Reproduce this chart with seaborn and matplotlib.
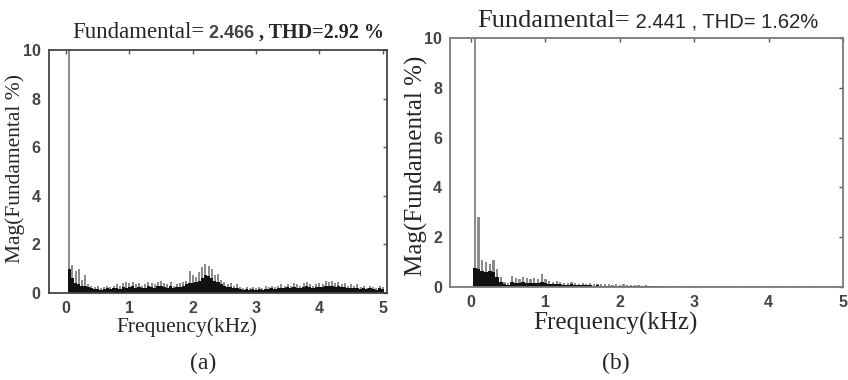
import numpy as np
import pandas as pd
import matplotlib
matplotlib.use("Agg")
import matplotlib.pyplot as plt
import seaborn as sns

# harmonic spectrum, 50 Hz bins up to 5 kHz (values in % of fundamental)
orders = np.arange(1, 101)
freq_khz = orders * 0.05

peak_a = [100, 1.15, 0.9, 1.0, 0.55, 0.75, 0.35, 0.3, 0.25, 0.3,
          0.2, 0.25, 0.3, 0.25, 0.3, 0.35, 0.3, 0.4, 0.45, 0.4,
          0.45, 0.35, 0.4, 0.3, 0.35, 0.45, 0.4, 0.35, 0.45, 0.5,
          0.4, 0.35, 0.45, 0.3, 0.35, 0.4, 0.45, 0.5, 0.9, 0.75,
          0.65, 0.85, 1.05, 1.2, 1.1, 1.0, 0.75, 0.8, 0.55, 0.45,
          0.35, 0.4, 0.3, 0.35, 0.25, 0.2, 0.25, 0.2, 0.25, 0.2,
          0.25, 0.2, 0.3, 0.25, 0.3, 0.25, 0.3, 0.35, 0.3, 0.35,
          0.3, 0.4, 0.35, 0.3, 0.4, 0.45, 0.35, 0.3, 0.35, 0.4,
          0.35, 0.5, 0.45, 0.5, 0.4, 0.45, 0.35, 0.4, 0.3, 0.35,
          0.3, 0.35, 0.25, 0.3, 0.2, 0.3, 0.25, 0.2, 0.3, 0.25]

base_a = [1.0, 0.6, 0.4, 0.35, 0.3, 0.3, 0.25, 0.2, 0.15, 0.15,
          0.12, 0.15, 0.2, 0.15, 0.2, 0.2, 0.15, 0.25, 0.2, 0.25,
          0.3, 0.2, 0.25, 0.2, 0.2, 0.3, 0.25, 0.2, 0.3, 0.3,
          0.25, 0.2, 0.3, 0.2, 0.25, 0.25, 0.3, 0.35, 0.4, 0.4,
          0.45, 0.5, 0.6, 0.75, 0.7, 0.6, 0.5, 0.45, 0.35, 0.3,
          0.25, 0.25, 0.2, 0.2, 0.15, 0.12, 0.15, 0.12, 0.15, 0.12,
          0.15, 0.12, 0.15, 0.15, 0.2, 0.15, 0.2, 0.2, 0.2, 0.25,
          0.2, 0.25, 0.2, 0.2, 0.25, 0.3, 0.25, 0.2, 0.25, 0.25,
          0.25, 0.3, 0.3, 0.3, 0.25, 0.3, 0.25, 0.25, 0.2, 0.2,
          0.2, 0.2, 0.15, 0.2, 0.15, 0.2, 0.15, 0.12, 0.2, 0.15]

peak_b = [100, 2.8, 1.1, 1.0, 0.9, 1.1, 0.7, 0.4, 0.2, 0.15,
          0.45, 0.35, 0.3, 0.4, 0.35, 0.3, 0.35, 0.3, 0.5, 0.3,
          0.25, 0.2, 0.25, 0.2, 0.15, 0.15, 0.2, 0.15, 0.12, 0.15,
          0.12, 0.15, 0.1, 0.12, 0.1, 0.12, 0.1, 0.08, 0.1, 0.08,
          0.1, 0.08, 0.06, 0.08, 0.06, 0.05, 0.06, 0.05, 0.04, 0.05,
          0.04, 0.03, 0.04, 0.03, 0.03, 0.02, 0.03, 0.02, 0.02, 0.02,
          0.02, 0.02, 0.01, 0.02, 0.02, 0.01, 0.02, 0.01, 0.02, 0.01,
          0.02, 0.01, 0.01, 0.02, 0.01, 0.01, 0.02, 0.01, 0.01, 0.02,
          0.01, 0.01, 0.02, 0.01, 0.01, 0.01, 0.02, 0.01, 0.01, 0.01,
          0.01, 0.02, 0.01, 0.01, 0.01, 0.01, 0.01, 0.02, 0.01, 0.01]

base_b = [0.75, 0.7, 0.65, 0.6, 0.65, 0.6, 0.4, 0.2, 0.1, 0.08,
          0.2, 0.15, 0.15, 0.2, 0.15, 0.15, 0.15, 0.15, 0.2, 0.15,
          0.12, 0.1, 0.12, 0.1, 0.08, 0.08, 0.1, 0.08, 0.06, 0.07,
          0.06, 0.07, 0.05, 0.06, 0.05, 0.05, 0.04, 0.04, 0.05, 0.04,
          0.04, 0.03, 0.03, 0.03, 0.03, 0.02, 0.03, 0.02, 0.02, 0.02,
          0.01, 0.02, 0.01, 0.01, 0.02, 0.01, 0.01, 0.01, 0.02, 0.01,
          0.01, 0.01, 0.01, 0.01, 0.01, 0.01, 0.01, 0.01, 0.01, 0.01,
          0.01, 0.01, 0.01, 0.01, 0.01, 0.01, 0.01, 0.01, 0.01, 0.01,
          0.01, 0.01, 0.01, 0.01, 0.01, 0.01, 0.01, 0.01, 0.01, 0.01,
          0.01, 0.01, 0.01, 0.01, 0.01, 0.01, 0.01, 0.01, 0.01, 0.01]

x_ticks = [0, 1, 2, 3, 4, 5]
y_ticks = [0, 2, 4, 6, 8, 10]

SERIF = "Liberation Serif"
SANS = "Liberation Sans"

sns.set_theme(style="white")
plt.rcParams["font.family"] = [SANS, "DejaVu Sans"]

fig = plt.figure(figsize=(8.48, 3.8), dpi=100)
ax_a = fig.add_axes([0.0578, 0.229, 0.398, 0.639])
ax_b = fig.add_axes([0.531, 0.245, 0.463, 0.655])


def draw_spectrum(ax, peak, base, xlim, lab_size, xlab_pos, ylab_pos, spine_col):
    df = pd.DataFrame({"freq": freq_khz, "peak": peak, "base": base})
    sns.barplot(data=df, x="freq", y="peak", native_scale=True, color="#8c8c8c",
                saturation=1, width=0.6, errorbar=None, linewidth=0, ax=ax)
    sns.barplot(data=df, x="freq", y="base", native_scale=True, color="#111111",
                saturation=1, width=1.0, errorbar=None, linewidth=0, ax=ax)
    ax.set_xlim(*xlim)
    ax.set_ylim(0, 10)
    ax.set_xticks(x_ticks)
    ax.set_yticks(y_ticks)
    ax.tick_params(direction="in", length=3, width=1, color="#555555",
                   top=True, right=True, labelsize=11.5, pad=6, labelcolor="#444444")
    for lab in ax.get_xticklabels() + ax.get_yticklabels():
        lab.set_fontweight("bold")
    for sp in ax.spines.values():
        sp.set_color(spine_col)
        sp.set_linewidth(1.3)
    ax.set_xlabel("Frequency(kHz)", family=SERIF, fontsize=lab_size[0])
    ax.set_ylabel("Mag(Fundamental %)", family=SERIF, fontsize=lab_size[1])
    ax.xaxis.set_label_coords(*xlab_pos)
    ax.yaxis.set_label_coords(*ylab_pos)


draw_spectrum(ax_a, peak_a, base_a, (-0.27, 5.06), (15.5, 15.5),
              (0.408, -0.1), (-0.071, 0.514), "#444444")
draw_spectrum(ax_b, peak_b, base_b, (-0.28, 5.0), (18, 18),
              (0.42, -0.1), (-0.056, 0.486), "#7a7a7a")


def title_parts(x0, y0, parts):
    # place text pieces one after another on the same baseline
    renderer = fig.canvas.get_renderer()
    x = x0
    for txt, kw in parts:
        t = fig.text(x, y0, txt, va="baseline", ha="left", **kw)
        w = t.get_window_extent(renderer=renderer).width
        x += w / fig.bbox.width


title_parts(72 / 848, 1 - 38 / 380, [
    ("Fundamental=", dict(family=SERIF, fontsize=16.5)),
    (" 2.466", dict(family=SANS, fontsize=13, color="#444444", fontweight="bold")),
    (" , THD=2.92 %", dict(family=SERIF, fontsize=14.5, fontweight="bold")),
])
title_parts(477 / 848, 1 - 27 / 380, [
    ("Fundamental=", dict(family=SERIF, fontsize=19)),
    (" 2.441 , THD= 1.62%", dict(family=SANS, fontsize=14.5)),
])

fig.text(203 / 848, 1 - 363 / 380, "(a)", ha="center", va="center",
         family=SERIF, fontsize=17)
fig.text(616 / 848, 1 - 363 / 380, "(b)", ha="center", va="center",
         family=SERIF, fontsize=17)

fig.savefig("out.png", dpi=100)
